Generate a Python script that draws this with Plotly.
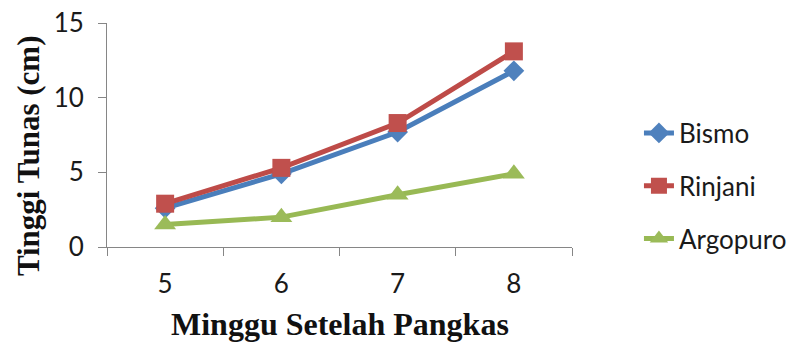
import plotly.graph_objects as go

# Shoot height (cm) per week after pruning, three varieties
weeks = ["5", "6", "7", "8"]
bismo = [2.6, 4.9, 7.7, 11.8]
rinjani = [2.9, 5.3, 8.3, 13.1]
argopuro = [1.5, 2.0, 3.5, 4.9]

y_ticks = [0, 5, 10, 15]

series = [
    ("Bismo", bismo, "#4A7EBB", "#4F81BD", "diamond", 16),
    ("Rinjani", rinjani, "#BE4B48", "#C0504D", "square", 18),
    ("Argopuro", argopuro, "#98B954", "#9BBB59", "triangle-up", 19),
]

fig = go.Figure()
for name, vals, lc, mc, sym, size in series:
    fig.add_trace(go.Scatter(
        x=weeks, y=vals, name=name, mode="lines+markers",
        line=dict(color=lc, width=5),
        marker=dict(symbol=sym, size=size, color=mc, line=dict(width=0)),
        legendgroup=name,
    ))

axis_gray = "#868686"
tick_font = dict(family="Lato", size=26, color="#1a1a1a")

fig.update_layout(
    template="none",
    width=793, height=344,
    margin=dict(l=107, r=221, t=23, b=97, autoexpand=False),
    paper_bgcolor="white", plot_bgcolor="white",
    showlegend=True,
    legend=dict(
        x=1.144, xanchor="left", y=0.272, yanchor="middle",
        font=dict(family="Lato", size=26, color="#1a1a1a"),
        tracegroupgap=16, bgcolor="rgba(0,0,0,0)", borderwidth=0,
    ),
    xaxis=dict(
        type="category", tickson="boundaries", range=[-0.5, 3.5],
        showline=True, linecolor=axis_gray, linewidth=1,
        ticks="outside", ticklen=8, tickcolor=axis_gray,
        showgrid=False, zeroline=False, automargin=False,
        tickfont=tick_font, ticklabelstandoff=14,
    ),
    yaxis=dict(
        range=[0, 15], tickvals=y_ticks,
        showline=True, linecolor=axis_gray, linewidth=1,
        ticks="outside", ticklen=8, tickcolor=axis_gray,
        showgrid=False, zeroline=False, automargin=False,
        tickfont=tick_font, ticklabelstandoff=9,
    ),
    annotations=[
        dict(text="<b>Minggu Setelah Pangkas</b>", xref="paper", yref="paper",
             x=0.5, y=-0.433, xanchor="center", yanchor="bottom", showarrow=False,
             font=dict(family="Liberation Serif", size=32, color="#111")),
        dict(text="<b>Tinggi Tunas (cm)</b>", xref="paper", yref="paper",
             x=-0.170, y=0.41, xanchor="center", yanchor="middle", showarrow=False,
             textangle=-90,
             font=dict(family="Liberation Serif", size=31, color="#111")),
    ],
)

fig.write_html("out.html")
